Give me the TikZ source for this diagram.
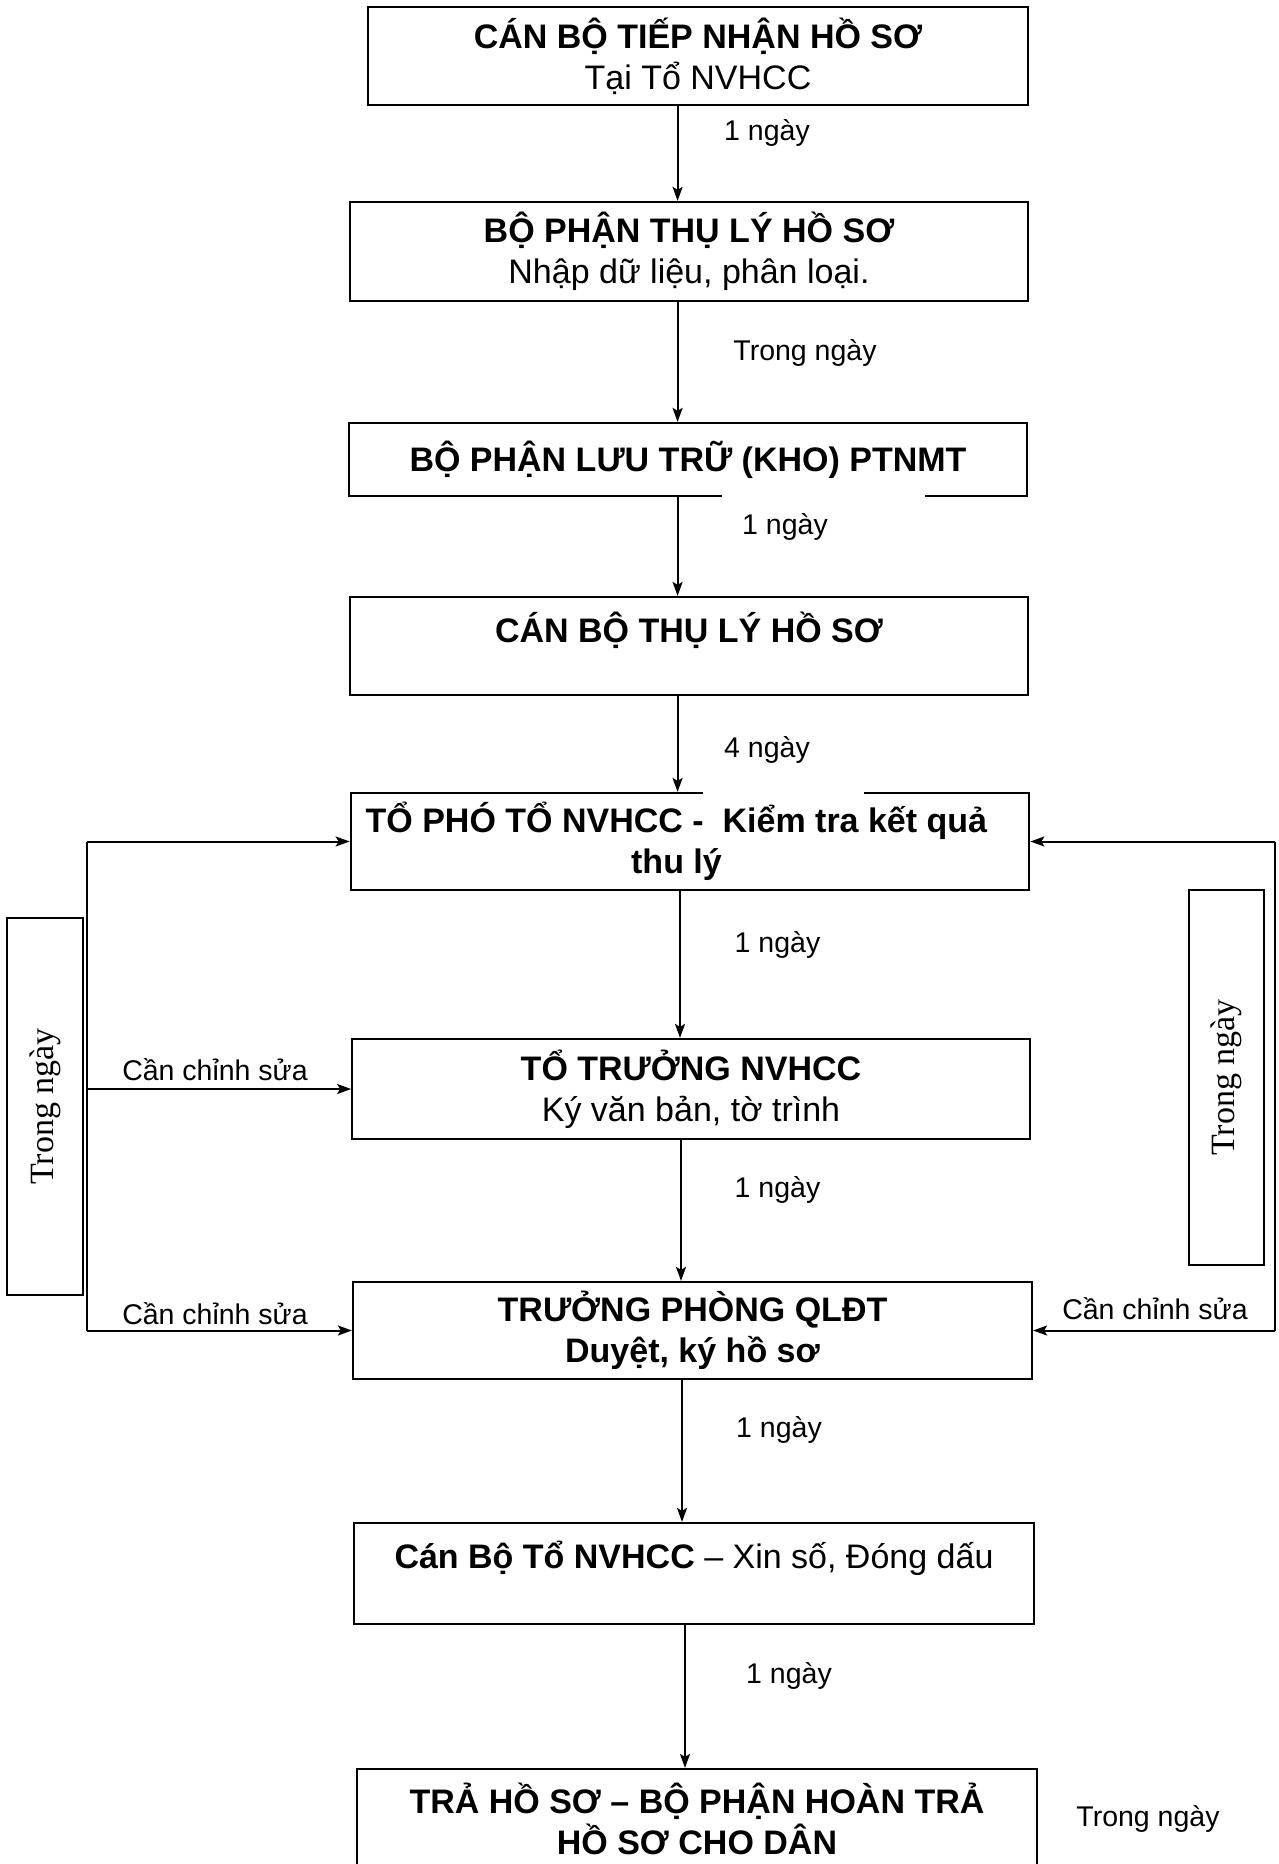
\documentclass[tikz,border=0pt]{standalone}
\usepackage{fontspec}
\setmainfont{Liberation Sans}
\newfontfamily\serifont{Liberation Serif}
\usetikzlibrary{arrows.meta}
\begin{document}
\begin{tikzpicture}[x=1pt,y=-1pt,
  box/.style={draw, line width=2.2pt, rectangle, align=center, inner sep=0pt, font=\fontsize{34}{41}\selectfont},
  lbl/.style={font=\fontsize{28.5}{34}\selectfont, inner sep=0pt},
  arr/.style={line width=2pt, -{Stealth[length=14pt,width=10pt,inset=3pt]}},
  ln/.style={line width=2pt},
  side/.style={draw, line width=2pt, inner sep=0pt, rotate=90, font=\serifont\fontsize{34}{40}\selectfont}]
\useasboundingbox (0,0) rectangle (1278,1864);
\clip (0,0) rectangle (1278,1864);
\fill[white] (0,0) rectangle (1278,1864);

% main boxes
\node[box, minimum width=659.5pt, minimum height=98pt] (b1) at (698,56)
  {\textbf{CÁN BỘ TIẾP NHẬN HỒ SƠ}\\Tại Tổ NVHCC};
\node[box, minimum width=678.5pt, minimum height=99pt] (b2) at (689,251.5)
  {\textbf{BỘ PHẬN THỤ LÝ HỒ SƠ}\\Nhập dữ liệu, phân loại.};
\node[box, minimum width=677.5pt, minimum height=73pt] (b3) at (688,459.5)
  {\textbf{BỘ PHẬN LƯU TRỮ (KHO) PTNMT}};
\node[box, minimum width=678.5pt, minimum height=98pt] (b4) at (689,646)
  {\textbf{CÁN BỘ THỤ LÝ HỒ SƠ}\\[-16pt] \strut};
\node[box, minimum width=678.5pt, minimum height=97pt] (b5) at (690,841.5)
  {\textbf{TỔ PHÓ TỔ NVHCC -\ \ Kiểm tra kết quả}\hspace*{27pt}\\\textbf{thu lý}\hspace*{27pt}};
\node[box, minimum width=677.5pt, minimum height=100pt] (b6) at (691,1089)
  {\textbf{TỔ TRƯỞNG NVHCC}\\Ký văn bản, tờ trình};
\node[box, minimum width=679pt, minimum height=97pt] (b7) at (692.5,1330.5)
  {\textbf{TRƯỞNG PHÒNG QLĐT}\\\textbf{Duyệt, ký hồ sơ}};
\node[box, minimum width=680pt, minimum height=101pt] (b8) at (694,1573.5)
  {\textbf{Cán Bộ Tổ NVHCC} – Xin số, Đóng dấu\\[-16pt] \strut};
\node[box, minimum width=680pt, minimum height=100pt] (b9) at (697,1819)
  {\textbf{TRẢ HỒ SƠ – BỘ PHẬN HOÀN TRẢ}\\\textbf{HỒ SƠ CHO DÂN}};

% gaps in borders (covered by label boxes in the original)
\fill[white] (722,492) rectangle (925,500);
\fill[white] (703,789) rectangle (864,797);

% side boxes
\node[side, minimum width=377pt, minimum height=76pt] (sl) at (45,1106.5) {Trong ngày};
\node[side, minimum width=375pt, minimum height=75pt] (sr) at (1226.5,1077.5) {Trong ngày};

% labels
\node[lbl] (l1) at (767,133) {1 ngày};
\node[lbl] (l2) at (805,353) {Trong ngày};
\node[lbl] (l3) at (785,527) {1 ngày};
\node[lbl] (l4) at (767,750) {4 ngày};
\node[lbl] (l5) at (777.5,945) {1 ngày};
\node[lbl] (l6) at (777.5,1190) {1 ngày};
\node[lbl] (l7) at (779,1430) {1 ngày};
\node[lbl] (l8) at (789,1676) {1 ngày};
\node[lbl] (l9) at (1148,1819) {Trong ngày};
\node[lbl] (c1) at (215,1070) {Cần chỉnh sửa};
\node[lbl] (c2) at (215,1314) {Cần chỉnh sửa};
\node[lbl] (c3) at (1155,1309) {Cần chỉnh sửa};

% vertical flow arrows
\coordinate (a1) at (677.6,0);
\coordinate (a5) at (680,0);
\coordinate (a6) at (681,0);
\coordinate (a7) at (682,0);
\coordinate (a8) at (685,0);
\draw[arr] (b1.south -| a1) -- (b2.north -| a1);
\draw[arr] (b2.south -| a1) -- (b3.north -| a1);
\draw[arr] (b3.south -| a1) -- (b4.north -| a1);
\draw[arr] (b4.south -| a1) -- (b5.north -| a1);
\draw[arr] (b5.south -| a5) -- (b6.north -| a5);
\draw[arr] (b6.south -| a6) -- (b7.north -| a6);
\draw[arr] (b7.south -| a7) -- (b8.north -| a7);
\draw[arr] (b8.south -| a8) -- (b9.north -| a8);

% left feedback loop
\coordinate (lx) at (87,0);
\draw[ln] (b5.west -| lx) -- (b7.west -| lx);
\draw[arr] (b5.west -| lx) -- (b5.west);
\draw[arr] (b6.west -| lx) -- (b6.west);
\draw[arr] (b7.west -| lx) -- (b7.west);

% right feedback loop
\coordinate (rx) at (1275,0);
\draw[ln] (b5.east -| rx) -- (b7.east -| rx);
\draw[arr] (b5.east -| rx) -- (b5.east);
\draw[arr] (b7.east -| rx) -- (b7.east);
\end{tikzpicture}
\end{document}
